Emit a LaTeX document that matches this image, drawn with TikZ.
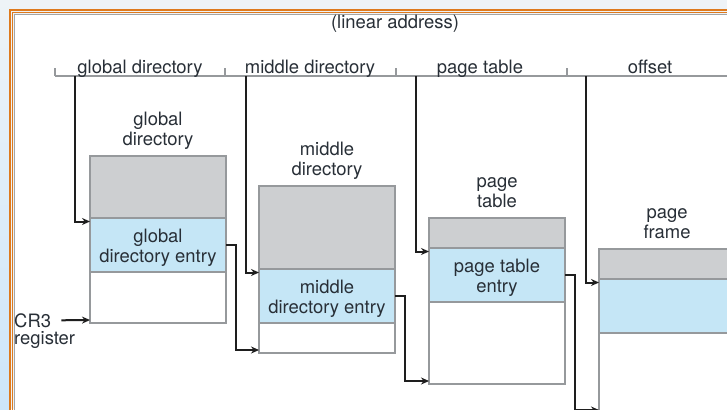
\documentclass[tikz,border=0pt]{standalone}
\usepackage{fontspec}
\setmainfont{TeX Gyre Heros}
\usepackage{tikz}
\usetikzlibrary{positioning}
\usetikzlibrary{arrows.meta}

\definecolor{ink}{RGB}{40,47,55}
\definecolor{boxline}{RGB}{150,153,156}
\definecolor{usedgray}{RGB}{205,207,209}
\definecolor{entryblue}{RGB}{197,230,246}
\definecolor{arrowink}{RGB}{30,30,30}
\definecolor{frameorange}{RGB}{222,122,30}
\definecolor{framegray}{RGB}{165,165,165}
\definecolor{bgtop}{RGB}{238,243,247}
\definecolor{bgleft}{RGB}{205,230,250}

\tikzset{
  usedpart/.style={draw=boxline, fill=usedgray, line width=1.2bp, minimum width=136bp, inner sep=0, outer sep=0},
  entrypart/.style={usedpart, fill=entryblue},
  freepart/.style={usedpart, fill=white},
  entrytext/.style={align=center, inner sep=0},
  tabletitle/.style={align=center, inner sep=0, anchor=south},
  fieldname/.style={anchor=base, inner sep=0},
  addrline/.style={draw=boxline, line width=1.2bp},
  link/.style={draw=arrowink, line width=2bp, -{Stealth[length=8bp,width=7bp]}}
}

\begin{document}
\begin{tikzpicture}[x=1bp,y=-1bp,font=\fontsize{18.5}{20}\selectfont,text=ink]
\useasboundingbox (0,0) rectangle (727,409);
\clip (0,0) rectangle (727,409);

% frame
\fill[bgtop] (0,0) rectangle (727,409);
\shade[top color=bgtop, bottom color=bgleft] (0,0) rectangle (10,409);
\fill[white] (14,14) rectangle (735,420);
\draw[frameorange, line width=2bp] (10,420) -- (10,10) -- (735,10);
\draw[frameorange, line width=1bp] (12.5,420) -- (12.5,12.5) -- (735,12.5);
\draw[framegray, line width=1.4bp] (14.3,420) -- (14.3,14.3) -- (735,14.3);

% linear address
\node[fieldname] (lin-addr) at (395,28) {(linear address)};
\draw[addrline] (55,76) -- (735,76);
\foreach \x in {55,225,396,567}
  \draw[addrline] (\x,68) -- (\x,76);
\node[fieldname] (gd-field) at (140,73) {global directory};
\node[fieldname] (md-field) at (310,73) {middle directory};
\node[fieldname] (pt-field) at (480,73) {page table};
\node[fieldname] (off-field) at (650,73) {offset};
\coordinate (gd-bit) at (75,76);
\coordinate (md-bit) at (246,76);
\coordinate (pt-bit) at (416,76);
\coordinate (off-bit) at (586,76);

% global directory
\node[usedpart, minimum height=62bp, anchor=north west] (gd-top) at (90,156) {};
\node[entrypart, minimum height=54bp, below=0 of gd-top] (gd-entry) {};
\node[freepart, minimum height=51bp, below=0 of gd-entry] (gd-free) {};
\node[entrytext] (gd-entry-text) at ([yshift=-2.5bp]gd-entry.center) {global\\directory entry};
\node[tabletitle, above=4bp of gd-top] (gd-title) {global\\directory\strut};

% middle directory
\node[usedpart, minimum height=83bp, anchor=north west] (md-top) at (259,186) {};
\node[entrypart, minimum height=54bp, below=0 of md-top] (md-entry) {};
\node[freepart, minimum height=30bp, below=0 of md-entry] (md-free) {};
\node[entrytext] (md-entry-text) at ([yshift=-2.5bp]md-entry.center) {middle\\directory entry};
\node[tabletitle, above=4bp of md-top] (md-title) {middle\\directory\strut};

% page table
\node[usedpart, minimum height=30bp, anchor=north west] (pt-top) at (429,218) {};
\node[entrypart, minimum height=54bp, below=0 of pt-top] (pt-entry) {};
\node[freepart, minimum height=82bp, below=0 of pt-entry] (pt-free) {};
\node[entrytext] (pt-entry-text) at ([yshift=-2.5bp]pt-entry.center) {page table\\entry};
\node[tabletitle, above=4bp of pt-top] (pt-title) {page\\table\strut};

% page frame
\node[usedpart, minimum height=30bp, anchor=north west] (pf-top) at (599,249) {};
\node[entrypart, minimum height=54bp, below=0 of pf-top] (pf-entry) {};
\node[freepart, minimum height=90bp, below=0 of pf-entry] (pf-free) {};
\node[tabletitle, above=4bp of pf-top] (pf-title) {page\\frame\strut};

% CR3
\node[anchor=base west, inner sep=0] (cr3) at (14,327) {CR3};
\node[anchor=base west, inner sep=0] (cr3-reg) at (14,344) {register};
\draw[link] ([xshift=10bp]cr3.east) -- ([yshift=3bp]gd-free.south west);

% index bits
\draw[link] (gd-bit) |- ([yshift=-3.5bp]gd-entry.north west);
\draw[link] (md-bit) |- ([yshift=-3.5bp]md-entry.north west);
\draw[link] (pt-bit) |- ([yshift=-3.5bp]pt-entry.north west);
\draw[link] (off-bit) |- ([yshift=-3.5bp]pf-entry.north west);

% entries
\draw[link] (gd-entry.east) -- ++(10bp,0) |- ([yshift=3bp]md-free.south west);
\draw[link] (md-entry.east) -- ++(10bp,0) |- ([yshift=3bp]pt-free.south west);
\draw[link] (pt-entry.east) -- ++(10bp,0) |- ([yshift=13bp]pf-free.south west);

\end{tikzpicture}
\end{document}
